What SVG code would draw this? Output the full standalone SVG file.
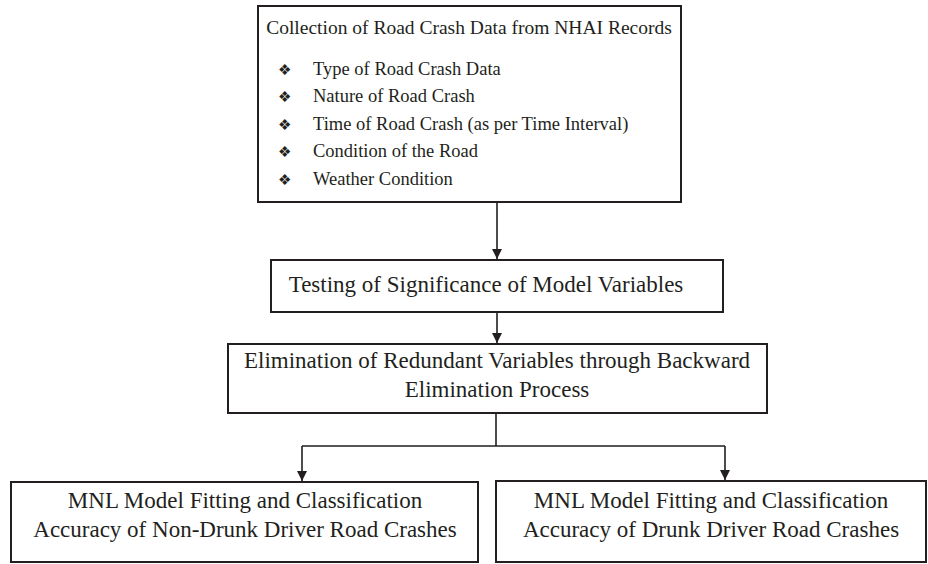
<svg xmlns="http://www.w3.org/2000/svg" width="928" height="564" viewBox="0 0 928 564">
<style>
.box{fill:#fff;stroke:#231f20;stroke-width:2}
.t{font-family:"Liberation Serif","Times New Roman",serif;fill:#231f20;font-size:23px}
.tt{font-family:"Liberation Serif","Times New Roman",serif;fill:#231f20;font-size:19.5px}
.ti{font-family:"Liberation Serif","Times New Roman",serif;fill:#231f20;font-size:18.5px}
.b{font-family:"DejaVu Sans",sans-serif;fill:#231f20;font-size:15px}
.c{fill:none;stroke:#231f20;stroke-width:1.6}
</style>
<defs>
<marker id="ah" markerWidth="10" markerHeight="12" refX="10" refY="5" orient="auto" markerUnits="userSpaceOnUse">
<path d="M0,0 L10,5 L0,10 Z" fill="#231f20"/>
</marker>
</defs>
<rect width="928" height="564" fill="#fff"/>
<g id="connectors">
<path class="c" d="M497,202 V259" marker-end="url(#ah)"/>
<path class="c" d="M497,312 V343" marker-end="url(#ah)"/>
<path class="c" d="M496,413 V446 M302,446 H725"/>
<path class="c" d="M302,446 V481" marker-end="url(#ah)"/>
<path class="c" d="M725,446 V480" marker-end="url(#ah)"/>
</g>
<g id="collection">
<rect class="box" x="258" y="6" width="423" height="196"/>
<text class="tt" x="469" y="34" text-anchor="middle">Collection of Road Crash Data from NHAI Records</text>
<text class="b" x="278" y="75">❖</text><text class="ti" x="313" y="75">Type of Road Crash Data</text>
<text class="b" x="278" y="102">❖</text><text class="ti" x="313" y="102">Nature of Road Crash</text>
<text class="b" x="278" y="130">❖</text><text class="ti" x="313" y="130">Time of Road Crash (as per Time Interval)</text>
<text class="b" x="278" y="157">❖</text><text class="ti" x="313" y="157">Condition of the Road</text>
<text class="b" x="278" y="185">❖</text><text class="ti" x="313" y="185">Weather Condition</text>
</g>
<g id="testing">
<rect class="box" x="271" y="260" width="452" height="52"/>
<text class="t" x="486" y="292" text-anchor="middle">Testing of Significance of Model Variables</text>
</g>
<g id="elimination">
<rect class="box" x="228" y="344" width="539" height="69"/>
<text class="t" x="497" y="368" text-anchor="middle">Elimination of Redundant Variables through Backward</text>
<text class="t" x="497" y="397" text-anchor="middle">Elimination Process</text>
</g>
<g id="nondrunk">
<rect class="box" x="11" y="482" width="467" height="80"/>
<text class="t" x="245" y="508" text-anchor="middle">MNL Model Fitting and Classification</text>
<text class="t" x="245" y="537" text-anchor="middle">Accuracy of Non-Drunk Driver Road Crashes</text>
</g>
<g id="drunk">
<rect class="box" x="496" y="481" width="430" height="81"/>
<text class="t" x="711" y="508" text-anchor="middle">MNL Model Fitting and Classification</text>
<text class="t" x="711" y="537" text-anchor="middle">Accuracy of Drunk Driver Road Crashes</text>
</g>
</svg>
